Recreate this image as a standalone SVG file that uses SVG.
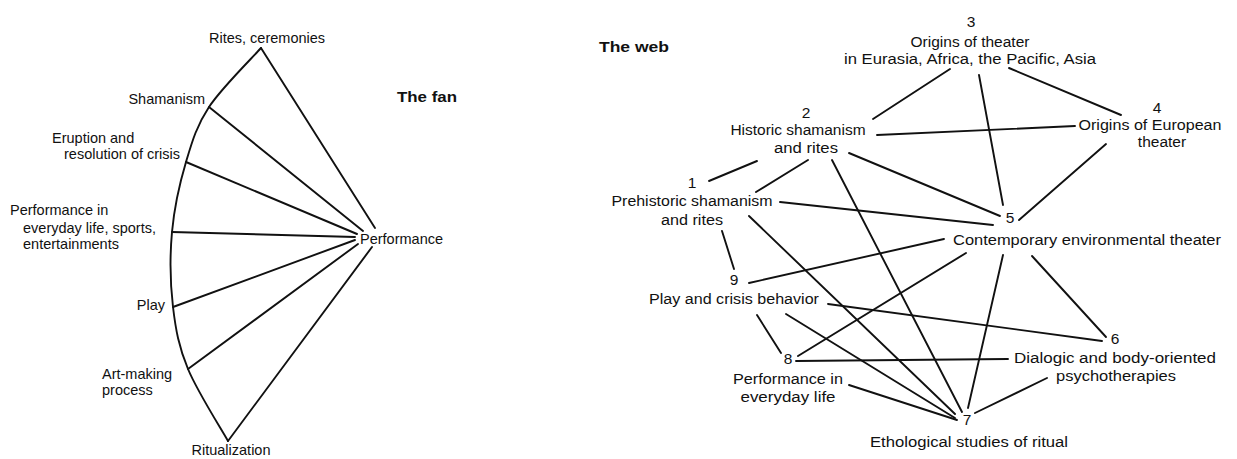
<svg xmlns="http://www.w3.org/2000/svg" width="1237" height="459" viewBox="0 0 1237 459">
<style>
text{font-family:"Liberation Sans",Arial,sans-serif;font-size:14.5px;fill:#111}
.w text{font-size:15.5px}
.b{font-weight:bold}
.m{text-anchor:middle}
.e{text-anchor:end}
.ln{stroke:#111;stroke-width:1.9;fill:none;stroke-linecap:round}
</style>
<rect width="1237" height="459" fill="#fff"/>
<!-- THE FAN -->
<g id="fan-connectors" class="ln">
<path d="M261,48 C252.3,57.8 221.5,88 209,107 C196.5,126 192.2,141.2 186,162 C179.8,182.8 174.2,207.8 172,232 C169.8,256.2 170.3,284.2 173,307 C175.7,329.8 178.8,346.7 188,369 C197.2,391.3 221.3,429 228,441"/>
<line x1="261" y1="48" x2="375" y2="228"/>
<line x1="209" y1="107" x2="363" y2="231"/>
<line x1="186" y1="162" x2="357" y2="234"/>
<line x1="172" y1="232" x2="355" y2="237"/>
<line x1="173" y1="307" x2="355" y2="240"/>
<line x1="188" y1="369" x2="358" y2="244"/>
<line x1="228" y1="441" x2="372" y2="247"/>
</g>
<g id="fan-title"><text class="b" x="397" y="102" textLength="60" lengthAdjust="spacingAndGlyphs">The fan</text></g>
<g id="fan-rites"><text x="209" y="43">Rites, ceremonies</text></g>
<g id="fan-shamanism"><text class="e" x="205" y="104">Shamanism</text></g>
<g id="fan-eruption"><text x="52" y="143">Eruption and</text><text x="64" y="159">resolution of crisis</text></g>
<g id="fan-everyday"><text x="10" y="215">Performance in</text><text x="23" y="233">everyday life, sports,</text><text x="23" y="249">entertainments</text></g>
<g id="fan-play"><text class="e" x="165" y="310">Play</text></g>
<g id="fan-art"><text x="102" y="379">Art-making</text><text x="102" y="395">process</text></g>
<g id="fan-ritualization"><text class="m" x="231" y="455">Ritualization</text></g>
<g id="fan-performance"><text x="360" y="244">Performance</text></g>
<!-- THE WEB -->
<g id="web-connectors" class="ln">
<line x1="757" y1="161" x2="709" y2="181"/>
<line x1="808" y1="160" x2="756" y2="192"/>
<line x1="950" y1="69" x2="873" y2="119"/>
<line x1="979" y1="75" x2="1003" y2="205"/>
<line x1="1009" y1="68" x2="1121" y2="115"/>
<line x1="877" y1="135" x2="1075" y2="126"/>
<line x1="1106" y1="144" x2="1019" y2="220"/>
<line x1="849" y1="153" x2="1000" y2="216"/>
<line x1="832" y1="160" x2="962" y2="412"/>
<line x1="780" y1="202" x2="993" y2="225"/>
<line x1="749" y1="216" x2="955" y2="414"/>
<line x1="722" y1="231" x2="734" y2="269"/>
<line x1="749" y1="283" x2="944" y2="239"/>
<line x1="828" y1="304" x2="1102" y2="341"/>
<line x1="786" y1="314" x2="955" y2="418"/>
<line x1="757" y1="315" x2="781" y2="353"/>
<line x1="966" y1="253" x2="798" y2="356"/>
<line x1="1003" y1="255" x2="968" y2="408"/>
<line x1="1032" y1="256" x2="1106" y2="337"/>
<line x1="796" y1="361" x2="1008" y2="359"/>
<line x1="849" y1="385" x2="957" y2="420"/>
<line x1="1047" y1="378" x2="975" y2="413"/>
</g>
<g class="w">
<g id="web-title"><text class="b" x="599" y="52" textLength="70" lengthAdjust="spacingAndGlyphs">The web</text></g>
<g id="web-node-3"><text class="m" x="971" y="27">3</text><text class="m" x="970" y="47">Origins of theater</text><text class="m" x="970" y="64" textLength="252" lengthAdjust="spacingAndGlyphs">in Eurasia, Africa, the Pacific, Asia</text></g>
<g id="web-node-2"><text class="m" x="806" y="118">2</text><text class="m" x="798" y="135">Historic shamanism</text><text class="m" x="806" y="153" textLength="64" lengthAdjust="spacingAndGlyphs">and rites</text></g>
<g id="web-node-4"><text class="m" x="1157" y="113">4</text><text class="m" x="1150" y="130" textLength="143" lengthAdjust="spacingAndGlyphs">Origins of European</text><text class="m" x="1162" y="147">theater</text></g>
<g id="web-node-1"><text class="m" x="692" y="188">1</text><text class="m" x="692" y="206" textLength="161" lengthAdjust="spacingAndGlyphs">Prehistoric shamanism</text><text class="m" x="692" y="225" textLength="62" lengthAdjust="spacingAndGlyphs">and rites</text></g>
<g id="web-node-5"><text class="m" x="1010" y="223">5</text><text x="953" y="245" textLength="268" lengthAdjust="spacingAndGlyphs">Contemporary environmental theater</text></g>
<g id="web-node-9"><text class="m" x="734" y="285">9</text><text class="m" x="734" y="304" textLength="170" lengthAdjust="spacingAndGlyphs">Play and crisis behavior</text></g>
<g id="web-node-6"><text class="m" x="1115" y="344">6</text><text class="m" x="1115" y="363" textLength="202" lengthAdjust="spacingAndGlyphs">Dialogic and body-oriented</text><text class="m" x="1116" y="381" textLength="120" lengthAdjust="spacingAndGlyphs">psychotherapies</text></g>
<g id="web-node-8"><text class="m" x="788" y="364">8</text><text class="m" x="788" y="384" textLength="110" lengthAdjust="spacingAndGlyphs">Performance in</text><text class="m" x="788" y="402" textLength="95" lengthAdjust="spacingAndGlyphs">everyday life</text></g>
<g id="web-node-7"><text class="m" x="967" y="425">7</text><text class="m" x="969" y="447" textLength="198" lengthAdjust="spacingAndGlyphs">Ethological studies of ritual</text></g>
</g>
</svg>
